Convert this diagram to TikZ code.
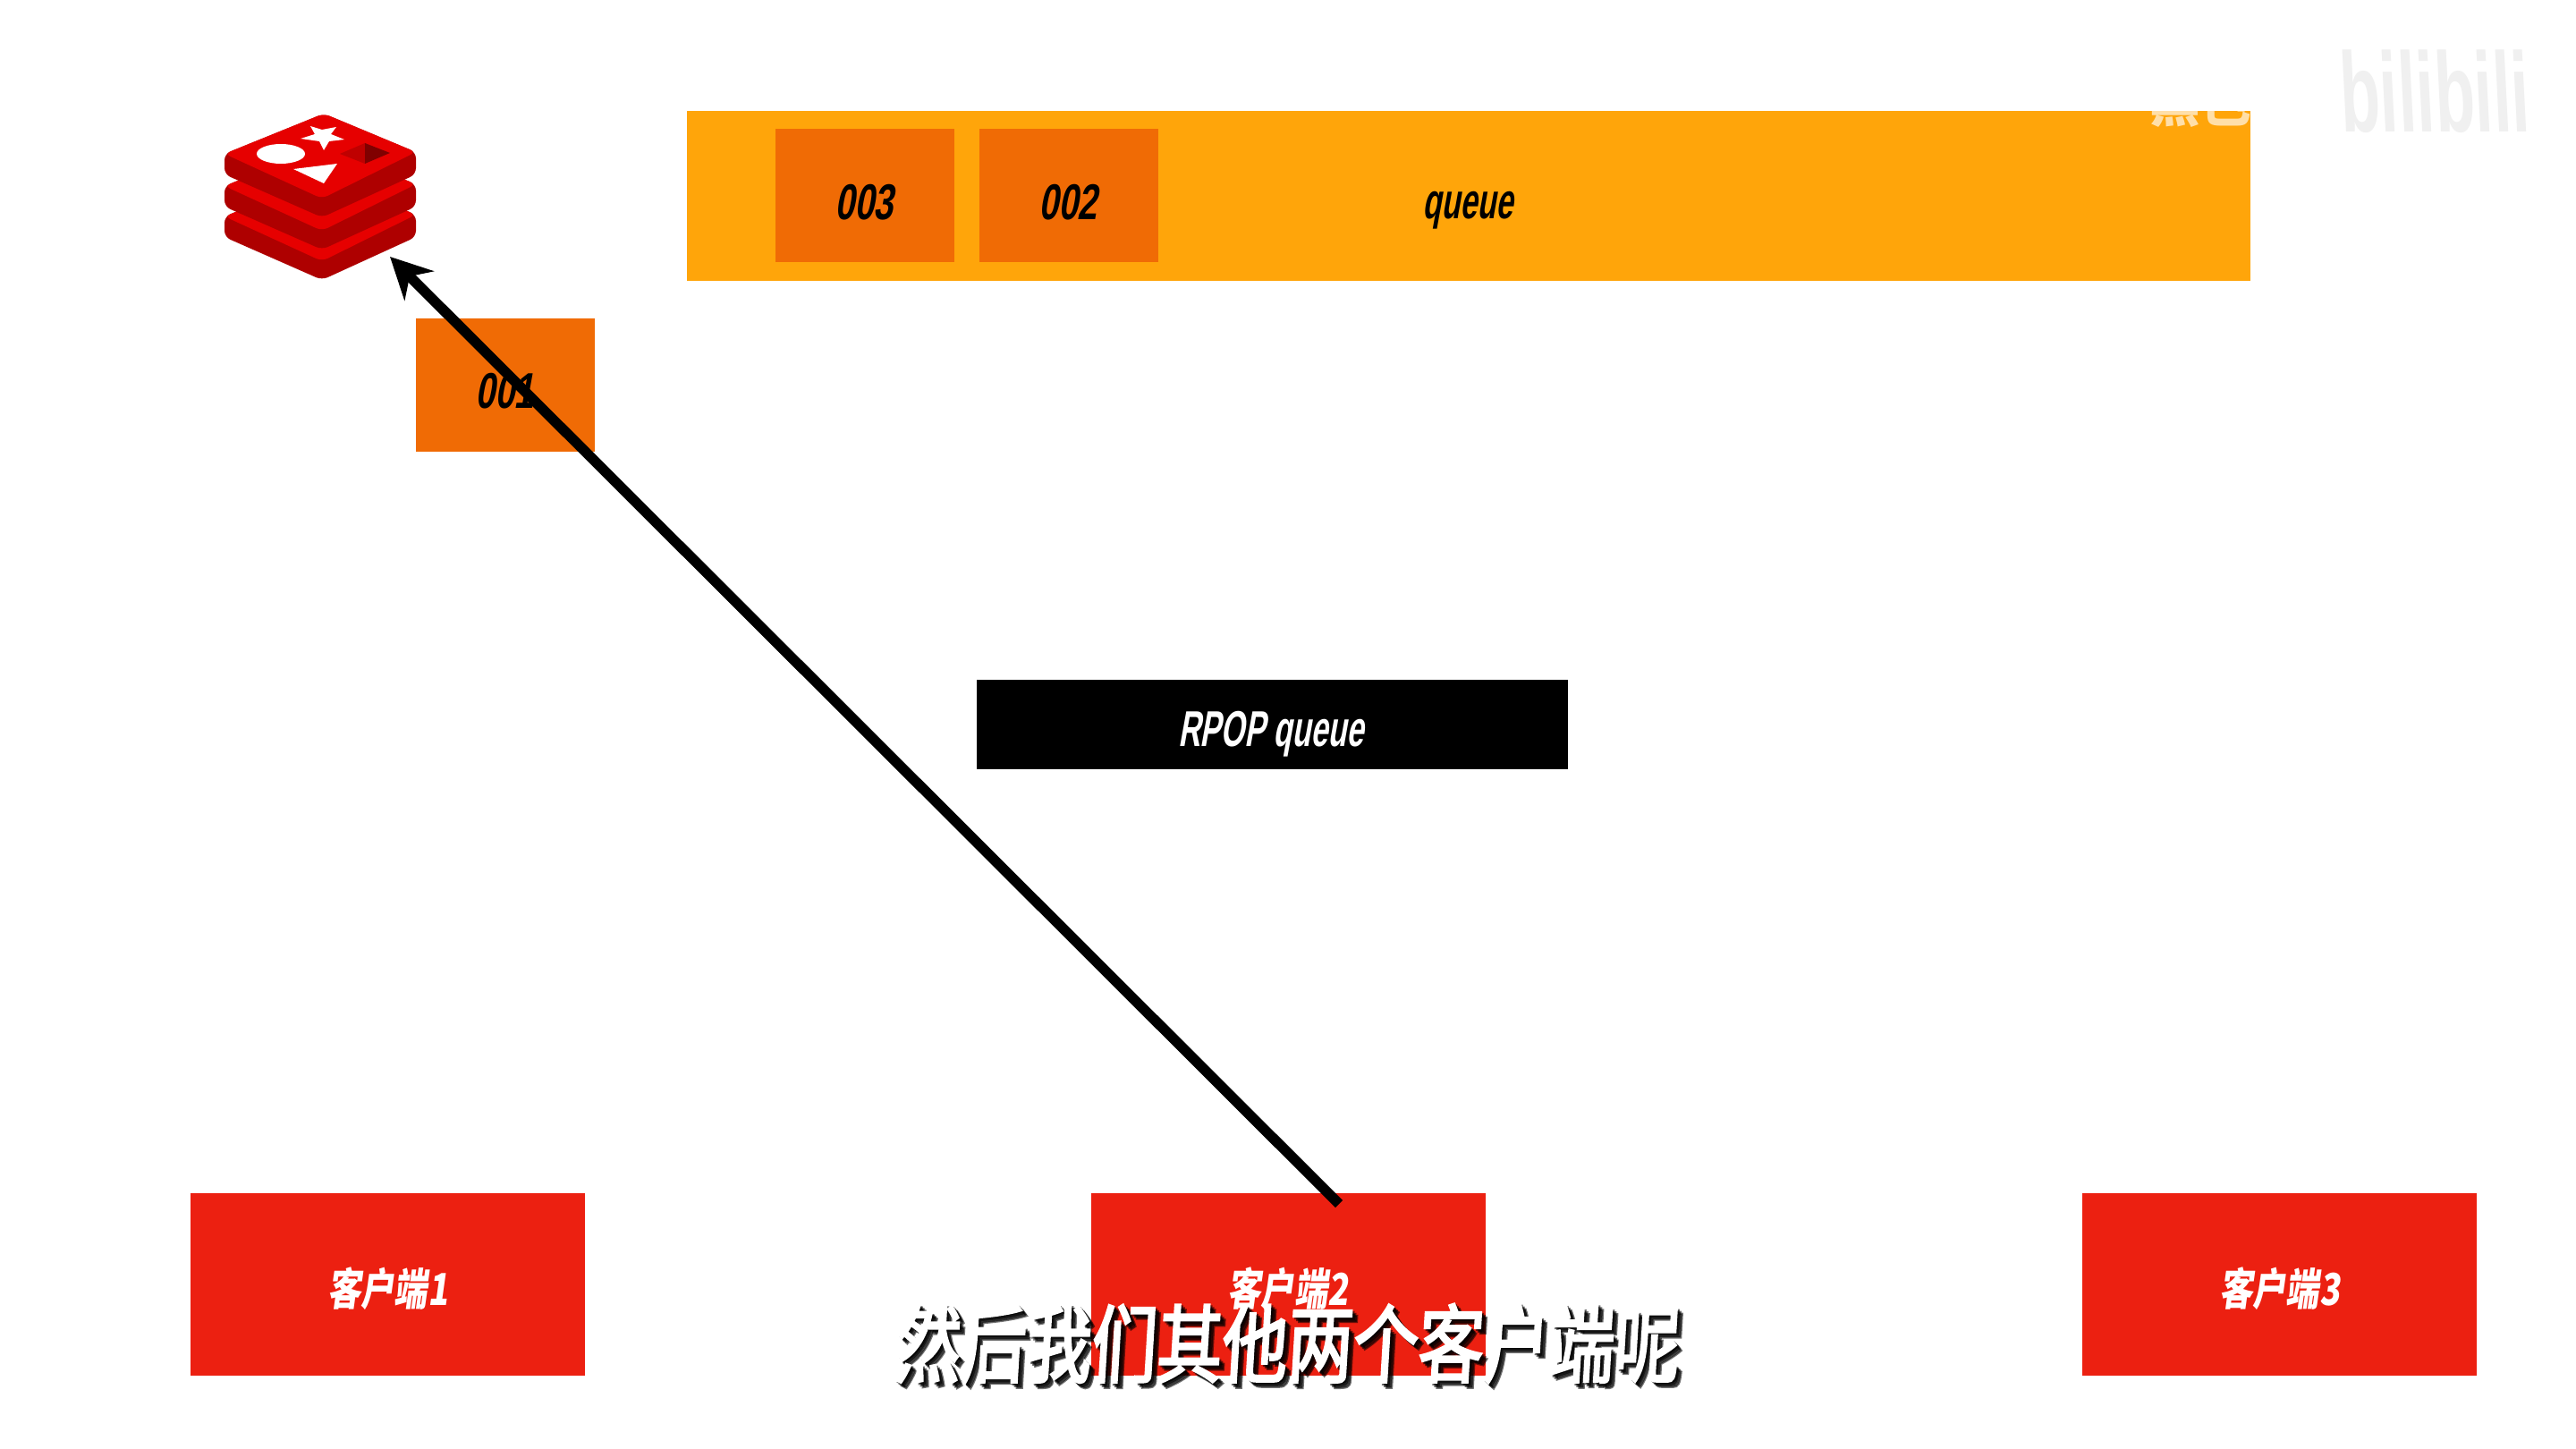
\documentclass[tikz,border=0pt]{standalone}
\usepackage{fontspec}
\usetikzlibrary{arrows.meta}
\newfontfamily\labelfont[FakeSlant=0.18,FakeStretch=0.70]{Liberation Sans}
\newfontfamily\narrowfont[FakeSlant=0.18,FakeStretch=0.61]{Liberation Sans}
\newfontfamily\cjkfont[FakeSlant=0.14,FakeStretch=0.76]{Noto Sans CJK SC}
\newfontfamily\subfont[FakeSlant=0.06,FakeStretch=0.77,FakeBold=2.6]{Noto Sans CJK SC}
\newfontfamily\markfont[FakeSlant=-0.05,FakeStretch=0.58]{Liberation Sans}
\newfontfamily\userfont[FakeStretch=0.95]{Noto Sans CJK SC}
\definecolor{queuebar}{HTML}{FFA50A}
\definecolor{msgbox}{HTML}{F06B05}
\definecolor{clientred}{HTML}{EC2011}
\definecolor{redisface}{HTML}{E60000}
\definecolor{redisside}{HTML}{AE0000}
\tikzset{
	plainbox/.style={draw=none, inner sep=0pt, minimum width=#1},
	msg/.style={plainbox=2cm, fill=msgbox, minimum height=1.49cm},
	clientbox/.style={plainbox=4.41cm, fill=clientred, minimum height=2.04cm},
	msgtext/.style={font=\labelfont\bfseries\fontsize{16}{16}\selectfont, text=black},
	clienttext/.style={font=\cjkfont\bfseries\fontsize{14}{14}\selectfont, text=white},
}

\begin{document}
\begin{tikzpicture}[y=-1cm]
	\useasboundingbox (0,0) rectangle (28.8,16.2);
	\fill[white] (0,0) rectangle (28.8,16.2);

	\node[plainbox=17.48cm, fill=queuebar, minimum height=1.90cm] (queuebar) at (16.42,2.19) {};
	\node[font=\narrowfont\bfseries\fontsize{16}{16}\selectfont] (queuetext) at (16.41,2.35) {queue};
	\foreach \x/\n in {9.67/003, 11.95/002, 5.65/001} {
		\ifnum\n=1
			\node[msg] (box\n) at (\x,4.31) {};
			\node[msgtext] (text\n) at (\x-0.01,4.37) {\n};
		\else
			\node[msg] (box\n) at (\x,2.19) {};
			\node[msgtext] (text\n) at (\x-0.01,2.26) {\n};
		\fi
	}

	\node[fill=black, inner sep=0pt, minimum width=6.61cm, minimum height=1cm] (rpop) at (14.22,8.10) {};
	\node[font=\narrowfont\bfseries\fontsize{16}{16}\selectfont, text=white] (rpoptext) at (14.21,8.21) {RPOP queue};

	\foreach \x/\n in {4.335/1, 14.40/2, 25.485/3} {
		\node[clientbox] (client\n) at (\x,14.36) {};
		\node[clienttext] (clienttext\n) at (\x,14.41) {客户端\n};
	}

	\foreach \dy in {0.70,0.36,0} {
		\begin{scope}[shift={(0,\dy)}]
			\fill[redisside, rounded corners=0.07cm] (3.62,1.27) -- (4.65,1.70) -- (4.65,1.95) -- (3.60,2.43) -- (2.51,1.95) -- (2.51,1.72) -- cycle;
			\fill[redisface, rounded corners=0.07cm] (3.62,1.27) -- (4.65,1.70) -- (3.60,2.22) -- (2.51,1.72) -- cycle;
		\end{scope}
	}
	\fill[white] (3.14,1.72) ellipse (0.27 and 0.11);
	\fill[white] (3.28,1.89) -- (3.77,1.83) -- (3.62,2.05) -- cycle;
	\fill[white] (3.47,1.41) -- (3.60,1.45) -- (3.76,1.42) -- (3.70,1.50) -- (3.85,1.56) -- (3.68,1.58) -- (3.62,1.68) -- (3.57,1.58) -- (3.36,1.55) -- (3.52,1.50) -- cycle;
	\fill[red!75!black] (3.80,1.72) -- (4.08,1.60) -- (4.08,1.83) -- cycle;
	\fill[red!50!black] (4.08,1.60) -- (4.36,1.71) -- (4.08,1.83) -- cycle;

	\coordinate (popstart) at (14.97,13.46);
	\coordinate (redisin) at (4.36,2.87);
	\draw[line width=0.115cm, -{Stealth[length=0.46cm, width=0.46cm]}] (popstart) -- (redisin);

	\node[font=\markfont\bfseries\fontsize{36}{36}\selectfont, text=black!6] (markbili) at (27.24,1.02) {bilibili};
	\begin{scope}
		\clip (7.68,1.24) rectangle (25.16,3.14);
		\node[font=\userfont\bfseries\fontsize{17}{17}\selectfont, text=white, opacity=0.65] (markuser) at (24.60,1.14) {黑色};
	\end{scope}

	\foreach \d in {0.02,0.04,0.06} {
		\node[font=\subfont\fontsize{27}{27}\selectfont, text=black, opacity=0.55] (subshadow\d) at (14.38+\d,15.02+\d) {然后我们其他两个客户端呢};
	}
	\node[font=\subfont\fontsize{27}{27}\selectfont, text=white] (subtitle) at (14.38,15.02) {然后我们其他两个客户端呢};
\end{tikzpicture}
\end{document}
